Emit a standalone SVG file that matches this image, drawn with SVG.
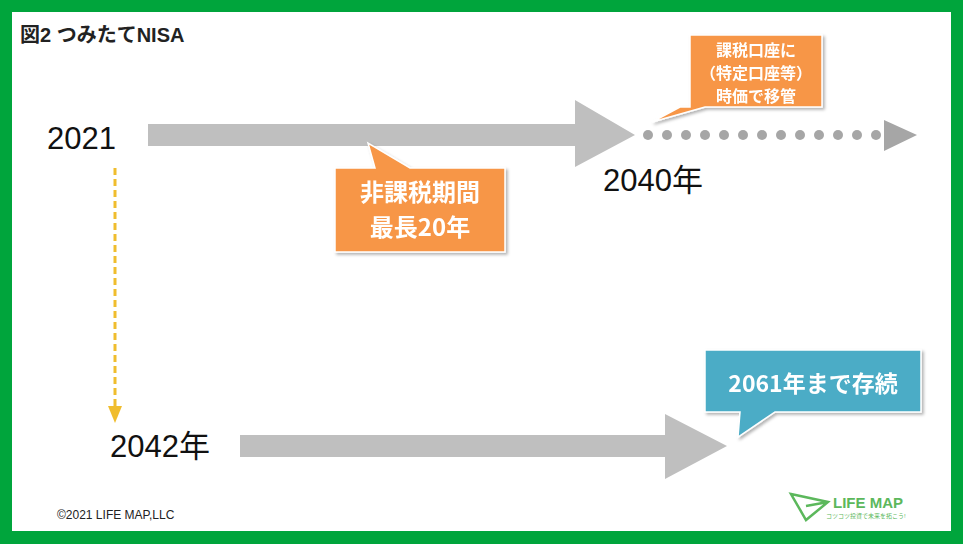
<svg xmlns="http://www.w3.org/2000/svg" width="963" height="544" viewBox="0 0 963 544">
<style>
.t{font-family:"Liberation Sans","Noto Sans CJK JP",sans-serif}
.y{font-family:"Liberation Sans","Noto Sans CJK JP",sans-serif;font-size:31px;fill:#111}
.c{font-family:"Noto Sans CJK JP",sans-serif;font-weight:bold;fill:#fff;text-anchor:middle}
.gray{fill:#bfbfbf}
.dot{fill:#a6a6a6}
</style>
<defs>
<filter id="sh" x="-10%" y="-10%" width="130%" height="130%"><feDropShadow dx="2" dy="2" stdDeviation="1.5" flood-opacity="0.3"/></filter>
</defs>
<rect x="0" y="0" width="963" height="544" fill="#00a53c"/>
<rect x="12" y="12" width="939" height="519" fill="#fff"/>
<text class="t" x="20" y="42" font-size="20" font-weight="bold" fill="#222">図2 つみたてNISA</text>
<g id="connectors">
<path class="gray" d="M148 124H575V100L635 135L575 167V146H148Z"/>
<g class="dot">
<circle cx="648" cy="135" r="5"/><circle cx="667" cy="135" r="5"/><circle cx="686" cy="135" r="5"/><circle cx="705" cy="135" r="5"/><circle cx="724" cy="135" r="5"/><circle cx="743" cy="135" r="5"/><circle cx="762" cy="135" r="5"/><circle cx="781" cy="135" r="5"/><circle cx="800" cy="135" r="5"/><circle cx="819" cy="135" r="5"/><circle cx="838" cy="135" r="5"/><circle cx="857" cy="135" r="5"/><circle cx="876" cy="135" r="5"/>
<path d="M884 120L917 135L884 151Z"/>
</g>
<line x1="115" y1="168" x2="115" y2="408" stroke="#f0bd2e" stroke-width="3" stroke-dasharray="7,4"/>
<path d="M108 406L115 423L122 406Z" fill="#f0bd2e"/>
<path class="gray" d="M240 435H665V414L727 446L665 479V457H240Z"/>
</g>
<g id="y2021"><text class="y" x="47" y="149">2021</text></g>
<g id="y2040"><text class="y" x="603" y="191">2040年</text></g>
<g id="y2042"><text class="y" x="110" y="457">2042年</text></g>
<g id="callout1" filter="url(#sh)">
<path d="M335 168H375L368 143L410 168H505V252H335Z" fill="#f79646" stroke="#fff" stroke-width="1.5"/>
<text class="c" x="420" y="201" font-size="24">非課税期間</text>
<text class="c" x="420" y="236" font-size="24">最長20年</text>
</g>
<g id="callout2" filter="url(#sh)">
<path d="M690 35H822V107H705L652 122L680 107H690Z" fill="#f79646" stroke="#fff" stroke-width="1.5"/>
<text class="c" x="756" y="56" font-size="16">課税口座に</text>
<text class="c" x="756" y="79" font-size="16">（特定口座等）</text>
<text class="c" x="756" y="102" font-size="16">時価で移管</text>
</g>
<g id="callout3" filter="url(#sh)">
<path d="M705 350H921V412H775L738 437L740 412H705Z" fill="#4bacc6" stroke="#fff" stroke-width="1.5"/>
<text class="c" x="813" y="392" font-size="23">2061年まで存続</text>
</g>
<g id="footer"><text class="t" x="57" y="519" font-size="12" fill="#222">©2021 LIFE MAP,LLC</text></g>
<g id="logo">
<path d="M791 494L828 502L806 520Z M806 506L828 502" fill="none" stroke="#5cb85c" stroke-width="2.5"/>
<text class="t" x="833" y="508" font-size="15" font-weight="bold" fill="#5cb85c">LIFE MAP</text>
<text class="t" x="826" y="518" font-size="6" fill="#5cb85c">コツコツ投資で未来を拓こう!</text>
</g>
</svg>
